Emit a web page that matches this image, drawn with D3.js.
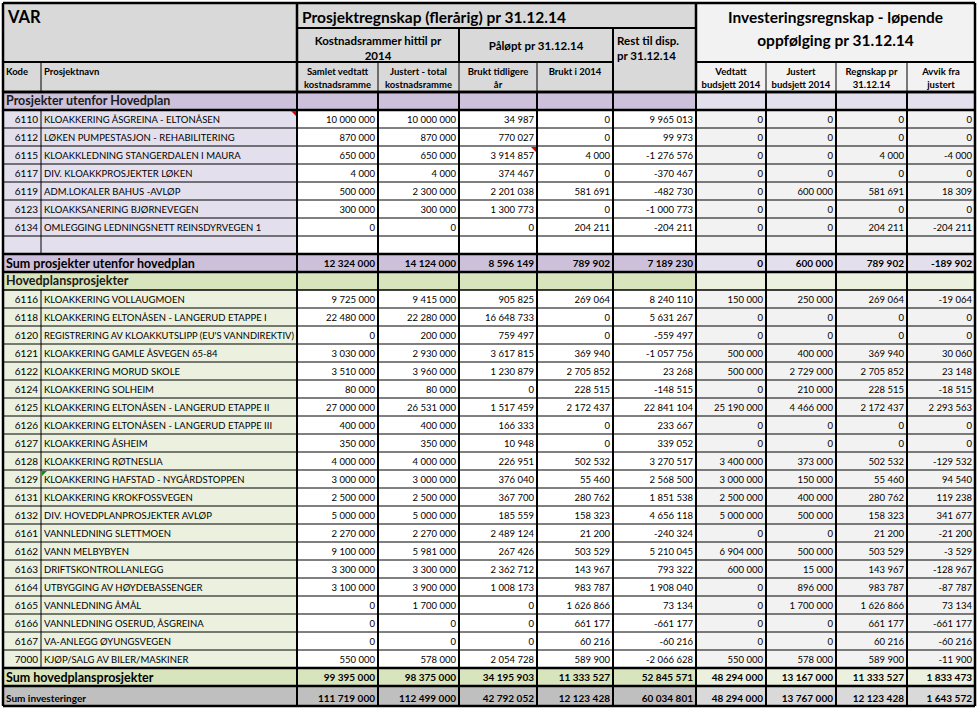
<!DOCTYPE html>
<html><head><meta charset="utf-8">
<script src="https://cdn.jsdelivr.net/npm/d3@7"></script>
<style>
html,body{margin:0;padding:0;background:#fff;}
svg{display:block;font-family:Lato,"Open Sans",sans-serif;}
</style></head>
<body><svg id="chart" width="977" height="709"></svg>
<script>
// ---------- DATA ----------
const mainTitle = "VAR";
const projTitle = "Prosjektregnskap (flerårig) pr 31.12.14";
const invTitle = ["Investeringsregnskap - løpende", "oppfølging pr 31.12.14"];
const groupHeaders = [["Kostnadsrammer hittil pr", "2014"], ["Påløpt pr 31.12.14"], ["Rest til disp.", "pr 31.12.14"]];
const columnHeaders = [
  ["Samlet vedtatt", "kostnadsramme"], ["Justert - total", "kostnadsramme"],
  ["Brukt tidligere", "år"], ["Brukt i 2014"], [],
  ["Vedtatt", "budsjett 2014"], ["Justert", "budsjett 2014"],
  ["Regnskap pr", "31.12.14"], ["Avvik fra", "justert"]
];

const outsideLabel = "Prosjekter utenfor Hovedplan";
const outsideCodes = [6110, 6112, 6115, 6117, 6119, 6123, 6134];
const outsideNames = [
  "KLOAKKERING ÅSGREINA - ELTONÅSEN", "LØKEN PUMPESTASJON - REHABILITERING",
  "KLOAKKLEDNING STANGERDALEN I MAURA", "DIV. KLOAKKPROSJEKTER LØKEN",
  "ADM.LOKALER BAHUS -AVLØP", "KLOAKKSANERING BJØRNEVEGEN",
  "OMLEGGING LEDNINGSNETT REINSDYRVEGEN 1"
];
const outsideValues = [
  [10000000, 10000000, 34987, 0, 9965013, 0, 0, 0, 0],
  [870000, 870000, 770027, 0, 99973, 0, 0, 0, 0],
  [650000, 650000, 3914857, 4000, -1276576, 0, 0, 4000, -4000],
  [4000, 4000, 374467, 0, -370467, 0, 0, 0, 0],
  [500000, 2300000, 2201038, 581691, -482730, 0, 600000, 581691, 18309],
  [300000, 300000, 1300773, 0, -1000773, 0, 0, 0, 0],
  [0, 0, 0, 204211, -204211, 0, 0, 204211, -204211]
];
const outsideSumLabel = "Sum prosjekter utenfor hovedplan";
const outsideSum = [12324000, 14124000, 8596149, 789902, 7189230, 0, 600000, 789902, -189902];

const mainLabel = "Hovedplansprosjekter";
const mainCodes = [6116, 6118, 6120, 6121, 6122, 6124, 6125, 6126, 6127, 6128, 6129, 6131, 6132, 6161, 6162, 6163, 6164, 6165, 6166, 6167, 7000];
const mainNames = [
  "KLOAKKERING VOLLAUGMOEN", "KLOAKKERING ELTONÅSEN - LANGERUD ETAPPE I",
  "REGISTRERING AV KLOAKKUTSLIPP (EU'S VANNDIREKTIV)", "KLOAKKERING GAMLE ÅSVEGEN 65-84",
  "KLOAKKERING MORUD SKOLE", "KLOAKKERING SOLHEIM",
  "KLOAKKERING ELTONÅSEN - LANGERUD ETAPPE II", "KLOAKKERING ELTONÅSEN - LANGERUD ETAPPE III",
  "KLOAKKERING ÅSHEIM", "KLOAKKERING RØTNESLIA", "KLOAKKERING HAFSTAD - NYGÅRDSTOPPEN",
  "KLOAKKERING KROKFOSSVEGEN", "DIV. HOVEDPLANPROSJEKTER AVLØP", "VANNLEDNING SLETTMOEN",
  "VANN MELBYBYEN", "DRIFTSKONTROLLANLEGG", "UTBYGGING AV HØYDEBASSENGER",
  "VANNLEDNING ÅMÅL", "VANNLEDNING OSERUD, ÅSGREINA", "VA-ANLEGG ØYUNGSVEGEN",
  "KJØP/SALG AV BILER/MASKINER"
];
const mainValues = [
  [9725000, 9415000, 905825, 269064, 8240110, 150000, 250000, 269064, -19064],
  [22480000, 22280000, 16648733, 0, 5631267, 0, 0, 0, 0],
  [0, 200000, 759497, 0, -559497, 0, 0, 0, 0],
  [3030000, 2930000, 3617815, 369940, -1057756, 500000, 400000, 369940, 30060],
  [3510000, 3960000, 1230879, 2705852, 23268, 500000, 2729000, 2705852, 23148],
  [80000, 80000, 0, 228515, -148515, 0, 210000, 228515, -18515],
  [27000000, 26531000, 1517459, 2172437, 22841104, 25190000, 4466000, 2172437, 2293563],
  [400000, 400000, 166333, 0, 233667, 0, 0, 0, 0],
  [350000, 350000, 10948, 0, 339052, 0, 0, 0, 0],
  [4000000, 4000000, 226951, 502532, 3270517, 3400000, 373000, 502532, -129532],
  [3000000, 3000000, 376040, 55460, 2568500, 3000000, 150000, 55460, 94540],
  [2500000, 2500000, 367700, 280762, 1851538, 2500000, 400000, 280762, 119238],
  [5000000, 5000000, 185559, 158323, 4656118, 5000000, 500000, 158323, 341677],
  [2270000, 2270000, 2489124, 21200, -240324, 0, 0, 21200, -21200],
  [9100000, 5981000, 267426, 503529, 5210045, 6904000, 500000, 503529, -3529],
  [3300000, 3300000, 2362712, 143967, 793322, 600000, 15000, 143967, -128967],
  [3100000, 3900000, 1008173, 983787, 1908040, 0, 896000, 983787, -87787],
  [0, 1700000, 0, 1626866, 73134, 0, 1700000, 1626866, 73134],
  [0, 0, 0, 661177, -661177, 0, 0, 661177, -661177],
  [0, 0, 0, 60216, -60216, 0, 0, 60216, -60216],
  [550000, 578000, 2054728, 589900, -2066628, 550000, 578000, 589900, -11900]
];
const mainSumLabel = "Sum hovedplansprosjekter";
const mainSum = [99395000, 98375000, 34195903, 11333527, 52845571, 48294000, 13167000, 11333527, 1833473];
const totalLabel = "Sum investeringer";
const totalSum = [111719000, 112499000, 42792052, 12123428, 60034801, 48294000, 13767000, 12123428, 1643572];

// ---------- LAYOUT ----------
const W = 977, H = 709;
const xEdges = [3, 41, 297, 378, 459, 537, 613, 696, 766, 836, 907, 975];
const x = d3.scaleLinear().domain(d3.range(xEdges.length)).range(xEdges);
const headY = {top: 3, r1: 28, r2: 62, r3: 92};
const themes = {
  purple: {head: "#ccc0da", light: "#e4dfec"},
  green:  {head: "#d8e4bc", light: "#ebf1de"},
  gray:   {head: "#bfbfbf", light: "#d9d9d9"}
};
const HDR = "#d9d9d9", RIGHTBG = "#f2f2f2";

// build body rows
const rows = [];
rows.push({type: "section", label: outsideLabel, theme: "purple"});
outsideCodes.forEach((c, i) => rows.push({type: "data", code: c, name: outsideNames[i], vals: outsideValues[i], theme: "purple"}));
rows.push({type: "empty", theme: "purple"});
rows.push({type: "sum", label: outsideSumLabel, vals: outsideSum, theme: "purple"});
rows.push({type: "section", label: mainLabel, theme: "green"});
mainCodes.forEach((c, i) => rows.push({type: "data", code: c, name: mainNames[i], vals: mainValues[i], theme: "green"}));
rows.push({type: "sum", label: mainSumLabel, vals: mainSum, theme: "green"});
rows.forEach((r, i) => r.i = i);

const y = d3.scaleBand().domain(d3.range(rows.length)).range([headY.r3, 686]);
const totalRow = {type: "total", label: totalLabel, vals: totalSum, theme: "gray", y0: 686, y1: 706};

const locale = d3.formatLocale({decimal: ",", thousands: "\u00a0", grouping: [3], currency: ["kr ", ""], minus: "-"});
const fmt = locale.format(",d");

const svg = d3.select("#chart");
svg.append("rect").attr("width", W).attr("height", H).attr("fill", "#fff");

// ---------- HEADER FILLS ----------
const gH = svg.append("g");
gH.append("rect").attr("x", x(0)).attr("y", headY.top).attr("width", x(2) - x(0)).attr("height", headY.r3 - headY.top).attr("fill", HDR);
gH.append("rect").attr("x", x(2)).attr("y", headY.top).attr("width", x(7) - x(2)).attr("height", headY.r3 - headY.top).attr("fill", HDR);
gH.append("rect").attr("x", x(7)).attr("y", headY.top).attr("width", x(11) - x(7)).attr("height", headY.r3 - headY.top).attr("fill", RIGHTBG);

// ---------- BODY FILLS ----------
function cellFill(r, col) { // col: 0 code, 1 name, 2..10 values
  const t = themes[r.theme];
  if (r.type === "section" || r.type === "sum" || r.type === "total") return col <= 6 ? t.head : t.light;
  if (col <= 1) return t.light;
  if (col <= 6) return "#ffffff";
  return RIGHTBG;
}
const allRows = rows.map(r => ({...r, y0: y(r.i), y1: y(r.i) + y.bandwidth()})).concat([totalRow]);
const gB = svg.append("g");
allRows.forEach(r => {
  for (let c = 0; c < 11; c++) {
    gB.append("rect").attr("x", x(c)).attr("y", r.y0).attr("width", x(c + 1) - x(c)).attr("height", r.y1 - r.y0).attr("fill", cellFill(r, c));
  }
});

// ---------- LINES ----------
const gL = svg.append("g").attr("stroke", "#000");
function hline(x0, x1, yy, w) { gL.append("line").attr("x1", x0).attr("x2", x1).attr("y1", yy).attr("y2", yy).attr("stroke-width", w); }
function vline(xx, y0, y1, w) { gL.append("line").attr("x1", xx).attr("x2", xx).attr("y1", y0).attr("y2", y1).attr("stroke-width", w); }

allRows.forEach((r, k) => {
  const heavy = r.type !== "data" && r.type !== "empty";
  const prev = allRows[k - 1];
  const heavyTop = heavy || (prev && prev.type !== "data" && prev.type !== "empty");
  hline(x(0), x(11), r.y0, heavyTop ? (r.type === "data" && prev.type === "section" && r.theme === "green" ? 1.5 : 2.5) : 1);
});
hline(x(0), x(11), totalRow.y1, 2.5);
allRows.forEach(r => {
  const spanLabel = r.type !== "data" && r.type !== "empty";
  if (!spanLabel) vline(x(1), r.y0, r.y1, 1);
  for (let c = 2; c <= 10; c++) vline(x(c), r.y0, r.y1, 2);
});
vline(x(0), headY.top, totalRow.y1, 2.5);
vline(x(11), headY.top, totalRow.y1, 2.5);

hline(x(0), x(11), headY.top, 2.5);
hline(x(2), x(7), headY.r1, 2);
hline(x(0), x(6), headY.r2, 2);
hline(x(7), x(11), headY.r2, 2);
hline(x(0), x(11), headY.r3, 2.5);
vline(x(2), headY.top, headY.r3, 2.5);
vline(x(7), headY.top, headY.r3, 2.5);
vline(x(6), headY.r1, headY.r3, 2);
vline(x(4), headY.r1, headY.r2, 2);
[1, 3, 4, 5, 8, 9, 10].forEach(c => vline(x(c), headY.r2, headY.r3, 1));

// ---------- HEADER TEXT ----------
const gT = svg.append("g").attr("fill", "#000");
gT.append("text").attr("x", x(0) + 5).attr("y", 23).attr("font-size", 16.5).attr("font-weight", "bold").text(mainTitle);
gT.append("text").attr("x", x(2) + 5).attr("y", 23).attr("font-size", 15.5).attr("font-weight", "bold").text(projTitle);
invTitle.forEach((t, i) => gT.append("text").attr("x", (x(7) + x(11)) / 2).attr("y", 23 + i * 23).attr("text-anchor", "middle")
  .attr("font-size", 15.5).attr("font-weight", "bold").text(t));
groupHeaders[0].forEach((t, i) => gT.append("text").attr("x", (x(2) + x(4)) / 2).attr("y", 45 + i * 15).attr("text-anchor", "middle")
  .attr("font-size", 11.5).attr("font-weight", "bold").text(t));
gT.append("text").attr("x", (x(4) + x(6)) / 2).attr("y", 50).attr("text-anchor", "middle").attr("font-size", 11.5).attr("font-weight", "bold").text(groupHeaders[1][0]);
groupHeaders[2].forEach((t, i) => gT.append("text").attr("x", x(6) + 4).attr("y", 45 + i * 15)
  .attr("font-size", 11.5).attr("font-weight", "bold").text(t));
gT.append("text").attr("x", x(0) + 3).attr("y", 75).attr("font-size", 9.5).attr("font-weight", "bold").text("Kode");
gT.append("text").attr("x", x(1) + 3).attr("y", 75).attr("font-size", 9.5).attr("font-weight", "bold").text("Prosjektnavn");
columnHeaders.forEach((lines, k) => {
  const c = k + 2;
  lines.forEach((t, i) => gT.append("text").attr("x", (x(c) + x(c + 1)) / 2).attr("y", 75 + i * 13).attr("text-anchor", "middle")
    .attr("font-size", 9.5).attr("font-weight", "bold").text(t));
});

// ---------- BODY TEXT ----------
function fitText(sel, maxW) {
  const n = sel.node();
  if (n.getComputedTextLength() > maxW) sel.attr("textLength", maxW).attr("lengthAdjust", "spacingAndGlyphs");
}
allRows.forEach(r => {
  const base = r.y0 + 13;
  if (r.type === "section") {
    gT.append("text").attr("x", x(0) + 3).attr("y", base).attr("font-size", 12.5).attr("font-weight", "bold").attr("fill", "#1a1a1a").text(r.label);
  } else if (r.type === "sum") {
    gT.append("text").attr("x", x(0) + 3).attr("y", base + 1).attr("font-size", 12.5).attr("font-weight", "bold").text(r.label);
  } else if (r.type === "total") {
    gT.append("text").attr("x", x(0) + 3).attr("y", r.y1 - 4).attr("font-size", 10).attr("font-weight", "bold").text(r.label);
  } else if (r.type === "data") {
    gT.append("text").attr("x", x(1) - 3).attr("y", base).attr("text-anchor", "end").attr("font-size", 10).text(r.code);
    const t = gT.append("text").attr("x", x(1) + 3).attr("y", base).attr("font-size", 9.5).text(r.name);
    fitText(t, x(2) - x(1) - 6);
  }
  if (r.vals) {
    const bold = r.type !== "data";
    r.vals.forEach((v, k) => {
      const c = k + 2;
      const t = gT.append("text").attr("x", x(c + 1) - 3).attr("y", r.type === "total" ? r.y1 - 4 : base)
        .attr("text-anchor", "end").attr("font-size", bold ? 10 : 9.5).attr("font-weight", bold ? "bold" : "normal").text(fmt(v));
      fitText(t, x(c + 1) - x(c) - 5);
    });
  }
});

// ---------- comment markers ----------
const gM = svg.append("g");
const r6110 = allRows.find(r => r.code === 6110), r6115 = allRows.find(r => r.code === 6115), r6129 = allRows.find(r => r.code === 6129);
gM.append("path").attr("d", `M${x(2) - 6},${r6110.y0 + 1}L${x(2) - 1},${r6110.y0 + 1}L${x(2) - 1},${r6110.y0 + 6}Z`).attr("fill", "#e00000");
gM.append("path").attr("d", `M${x(5) - 6},${r6115.y0 + 1}L${x(5) - 1},${r6115.y0 + 1}L${x(5) - 1},${r6115.y0 + 6}Z`).attr("fill", "#e00000");
gM.append("path").attr("d", `M${x(1) + 1},${r6129.y0 + 1}L${x(1) + 6},${r6129.y0 + 1}L${x(1) + 1},${r6129.y0 + 6}Z`).attr("fill", "#1a8a1a");
</script></body></html>
